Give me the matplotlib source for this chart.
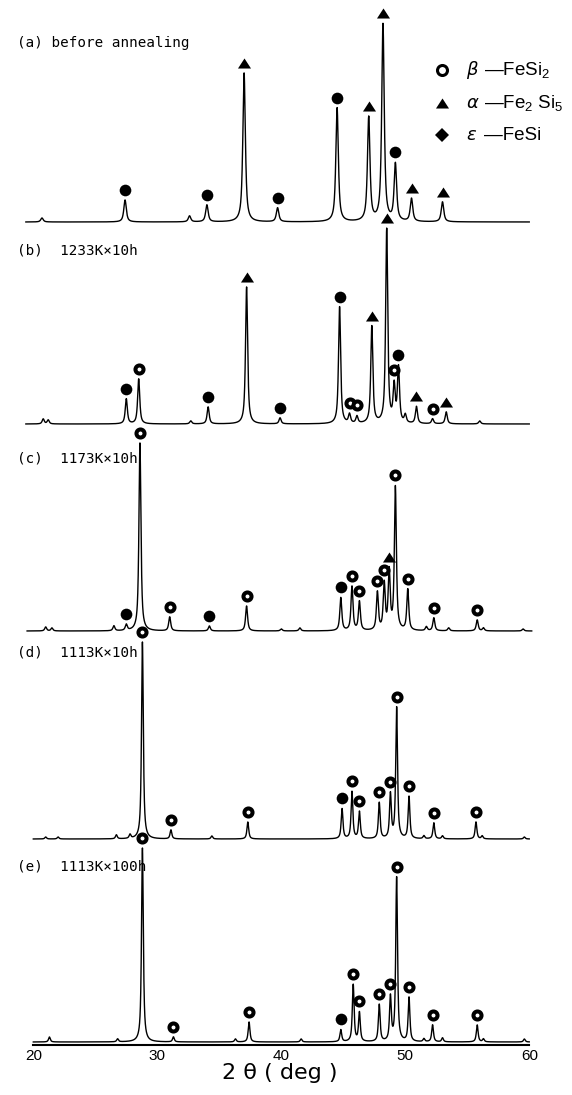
import numpy as np
import matplotlib
matplotlib.use('Agg')
import matplotlib.pyplot as plt

# XRD peak lists: 2theta (deg), intensity (arb.), phase ('b'=beta-FeSi2, 'a'=alpha-Fe2Si5, 'e'=eps-FeSi)
a_pos = [20.7, 27.4, 32.6, 34.0, 37.0, 39.7, 44.5, 47.05, 48.2, 49.2, 50.5, 53.0]
a_int = [4, 22, 6, 17, 149, 14, 114, 104, 197, 57, 23, 20]
a_phase = ['', 'e', '', 'e', 'a', 'e', 'e', 'a', 'a', 'e', 'a', 'a']

b_pos = [20.8, 21.2, 27.5, 28.5, 32.7, 34.1, 37.2, 39.9, 44.7, 45.5, 46.1, 47.3, 48.5,
         49.1, 49.45, 50.0, 50.9, 52.2, 53.3, 56.0]
b_int = [5, 4, 25, 45, 3, 17, 137, 6, 117, 9, 7, 97, 194, 36, 55, 8, 17, 5, 12, 3]
b_phase = ['', '', 'e', 'b', '', 'e', 'a', 'e', 'e', 'b', 'b', 'a', 'a',
           'b', 'e', '', 'a', 'b', 'a', '']

c_pos = [21.0, 21.5, 26.5, 27.5, 28.6, 31.0, 34.2, 37.2, 40.0, 41.5, 44.8, 45.7, 46.3,
         47.75, 48.3, 48.7, 49.2, 50.2, 51.7, 52.3, 53.5, 55.8, 56.3, 59.5]
c_int = [4, 3, 5, 6, 188, 14, 5, 25, 2, 3, 33, 44, 29, 38, 46, 58, 143, 41, 4, 13, 3, 11, 3, 2]
c_phase = ['', '', '', 'e', 'b', 'b', 'e', 'b', '', '', 'e', 'b', 'b',
           'b', 'b', 'a', 'b', 'b', '', 'b', '', 'b', '', '']

d_pos = [21.0, 22.0, 26.7, 27.8, 28.8, 31.1, 34.4, 37.3, 44.9, 45.7, 46.3, 47.9, 48.8,
         49.3, 50.3, 51.5, 52.3, 53.0, 55.7, 56.2, 59.6]
d_int = [2, 2, 4, 4, 197, 9, 3, 17, 30, 47, 27, 36, 44, 131, 42, 3, 16, 3, 17, 3, 2]
d_phase = ['', '', '', '', 'b', 'b', '', 'b', 'e', 'b', 'b', 'b', 'b',
           'b', 'b', '', 'b', '', 'b', '', '']

e_pos = [21.3, 26.8, 28.8, 31.3, 36.3, 37.4, 41.6, 44.8, 45.8, 46.3, 47.9, 48.8, 49.3,
         50.3, 51.5, 52.2, 53.0, 55.8, 56.3, 59.6]
e_int = [5, 3, 194, 5, 3, 20, 3, 12, 57, 29, 37, 44, 164, 44, 3, 17, 4, 17, 3, 3]
e_phase = ['', '', 'b', 'b', '', 'b', '', 'e', 'b', 'b', 'b', 'b', 'b',
           'b', '', 'b', '', 'b', '', '']

labels = ['(a) before annealing', '(b)  1233K×10h', '(c)  1173K×10h',
          '(d)  1113K×10h', '(e)  1113K×100h']

xticks = [20, 30, 40, 50, 60]


def profile(x, pos, h, w, eta=0.8):
    t = (x - pos) / (w / 2)
    return h * (eta / (1 + t ** 2) + (1 - eta) * np.exp(-np.log(2) * t ** 2))


plt.rcParams['mathtext.fontset'] = 'custom'
plt.rcParams['mathtext.rm'] = 'Liberation Sans'
plt.rcParams['mathtext.it'] = 'Liberation Sans:italic'

W, H = 572, 1095
fig = plt.figure(figsize=(W / 100, H / 100), dpi=100)
ppd = 12.4      # pixels per degree
x20 = 33.3      # pixel column of 20 deg
ax = fig.add_axes([(x20 - ppd) / W, 50 / H, 42 * ppd / W, 1045 / H])
ax.set_xlim(19, 61)
ax.set_ylim(0, 1045)

styles = {
    'b': dict(marker='o', ms=5.8, mfc='white', mec='black', mew=2.9),
    'a': dict(marker=[(-1, -0.77), (1, -0.77), (0, 0.77)], ms=9.4, mfc='black', mec='black', mew=0),
    'e': dict(marker='o', ms=8.4, mfc='black', mec='black', mew=0),
}

traces = [(a_pos, a_int, a_phase), (b_pos, b_int, b_phase), (c_pos, c_int, c_phase),
          (d_pos, d_int, d_phase), (e_pos, e_int, e_phase)]
offsets = [823, 621, 414, 206, 3]
fwhm = [0.24, 0.2, 0.19, 0.17, 0.17]
spans = [(19.4, 60.0), (19.4, 60.0), (19.5, 60.2), (20.0, 60.0), (20.0, 60.0)]

for (pos, inten, phase), off, w, (lo, hi) in zip(traces, offsets, fwhm, spans):
    x = np.arange(lo, hi, 0.005)
    y = np.zeros_like(x)
    for p, h in zip(pos, inten):
        y += profile(x, p, h, w)
    ax.plot(x, off + y, color='black', lw=1.0, clip_on=False)
    for p, ph in zip(pos, phase):
        if ph:
            top = off + np.interp(p, x, y)
            ax.plot(p, top + 10, linestyle='none', clip_on=False, **styles[ph])

for s in ['top', 'left', 'right']:
    ax.spines[s].set_visible(False)
ax.spines['bottom'].set_bounds(20, 60)
ax.spines['bottom'].set_linewidth(1.5)
ax.set_yticks([])
ax.set_xticks(xticks)
ax.tick_params(axis='x', length=0, pad=3)
for t in ax.get_xticklabels():
    t.set_fontfamily('Liberation Sans')
    t.set_fontsize(11)

fig.text(280 / W, 1 - 1073 / H, '2 θ ( deg )', ha='center', va='center',
         fontsize=16, family='DejaVu Sans')

label_y = [43, 251, 459, 653, 867]
for lab, ly in zip(labels, label_y):
    fig.text(17 / W, 1 - ly / H, lab, ha='left', va='center', fontsize=10.3,
             family='DejaVu Sans Mono')

# phase key
key = [('b', 'β', '—FeSi$_2$', 70), ('a', 'α', '—Fe$_2$ Si$_5$', 103), ('e', 'ε', '—FeSi', 135)]
key_style = {
    'b': dict(marker='o', ms=7.2, mfc='white', mec='black', mew=2.2),
    'a': styles['a'],
    'e': dict(marker='D', ms=7.5, mfc='black', mec='black', mew=0),
}
for ph, greek, name, ky in key:
    fig.add_artist(plt.Line2D([442 / W], [1 - ky / H], linestyle='none',
                              transform=fig.transFigure, **key_style[ph]))
    fig.text(466 / W, 1 - ky / H, greek, ha='left', va='center', fontsize=13,
             family='DejaVu Sans', style='italic')
    fig.text(484 / W, 1 - ky / H, name, ha='left', va='center', fontsize=13.5,
             family='Liberation Sans')

fig.savefig('out.png', dpi=100)
